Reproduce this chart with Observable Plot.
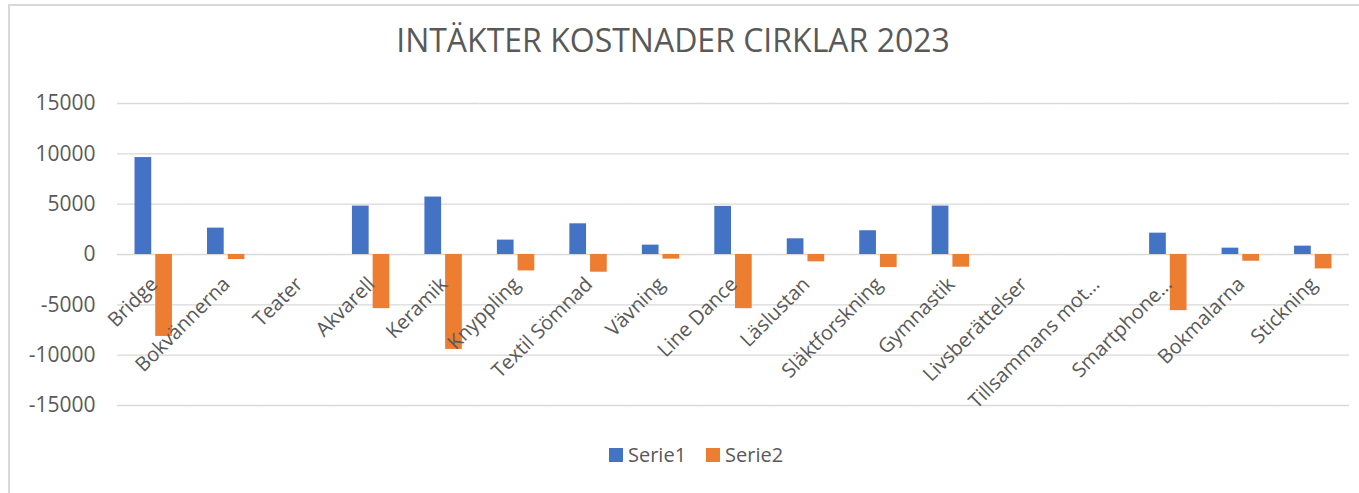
<!DOCTYPE html>
<html><head><meta charset="utf-8">
<script src="https://cdn.jsdelivr.net/npm/d3@7"></script>
<script src="https://cdn.jsdelivr.net/npm/@observablehq/plot@0.6"></script>
<style>
html,body{margin:0;padding:0;background:#fff;overflow:hidden;width:1359px;height:493px;}
#wrap{position:relative;width:1359px;height:493px;font-family:"Open Sans",sans-serif;color:#595959;overflow:hidden;}
#frame{position:absolute;left:8px;top:4px;width:1400px;height:600px;border-left:2px solid #d9d9d9;border-top:2px solid #d9d9d9;}
#title{position:absolute;left:0;top:18px;width:1346px;text-align:center;font-size:32px;line-height:normal;white-space:nowrap;}
#chart{position:absolute;left:0;top:70px;}
#legend{position:absolute;left:609px;top:441px;display:flex;align-items:center;font-size:20px;line-height:normal;}
.item{display:flex;align-items:center;margin-right:20px;}
.sw{width:14px;height:14px;margin-right:5px;}
</style></head>
<body><div id="wrap"><div id="frame"></div><div id="title"></div><div id="chart"></div><div id="legend"></div></div>
<script>
const chartTitle = "INTÄKTER KOSTNADER CIRKLAR 2023";
const categories = ["Bridge","Bokvännerna","Teater","Akvarell","Keramik","Knyppling","Textil Sömnad","Vävning","Line Dance","Läslustan","Släktforskning","Gymnastik","Livsberättelser","Tillsammans mot…","Smartphone…","Bokmalarna","Stickning"];
const seriesNames = ["Serie1","Serie2"];
const serie1 = [9630, 2620, 0, 4810, 5710, 1430, 3050, 930, 4780, 1560, 2360, 4810, 0, 0, 2120, 630, 830];
const serie2 = [-8140, -500, 0, -5380, -9430, -1630, -1760, -460, -5380, -730, -1290, -1260, 0, 0, -5580, -670, -1430];
const yTicks = [-15000, -10000, -5000, 0, 5000, 10000, 15000];
const seriesColors = ["#4472C4", "#ED7D31"];

document.getElementById("title").textContent = chartTitle;

const rows = [];
categories.forEach((c, i) => {
  rows.push({cat: c, series: seriesNames[0], value: serie1[i]});
  rows.push({cat: c, series: seriesNames[1], value: serie2[i]});
});

const chart = Plot.plot({
  width: 1359,
  height: 370,
  marginLeft: 117,
  marginRight: 10,
  marginTop: 33,
  marginBottom: 35,
  style: {fontFamily: "'Open Sans', sans-serif", fontSize: "21px", color: "#595959", background: "transparent", overflow: "visible"},
  fx: {domain: categories, padding: 0, round: false, axis: null},
  x: {domain: seriesNames, paddingInner: 0.193, paddingOuter: 0.847, round: false, axis: null},
  y: {domain: [-15000, 15000]},
  color: {domain: seriesNames, range: seriesColors},
  marks: [
    Plot.gridY(yTicks, {stroke: "#d9d9d9", strokeOpacity: 1, strokeWidth: 1.3}),
    Plot.axisY(yTicks, {tickSize: 0, tickPadding: 22, tickFormat: d => String(d), label: null, fill: "#595959", fontSize: 21}),
    Plot.barY(rows.filter(d => d.value !== 0), {fx: "cat", x: "series", y: "value", fill: "series"}),
    Plot.text(categories, {fx: d => d, y: 0, text: d => d, rotate: -45, textAnchor: "end", lineAnchor: "bottom", dx: 5, dy: 31, fontSize: 20, fill: "#595959"})
  ]
});
document.getElementById("chart").appendChild(chart);

const legend = document.getElementById("legend");
seriesNames.forEach((s, i) => {
  const item = document.createElement("div");
  item.className = "item";
  const sw = document.createElement("div");
  sw.className = "sw";
  sw.style.background = seriesColors[i];
  const t = document.createElement("span");
  t.textContent = s;
  item.appendChild(sw);
  item.appendChild(t);
  legend.appendChild(item);
});
</script>
</body></html>
